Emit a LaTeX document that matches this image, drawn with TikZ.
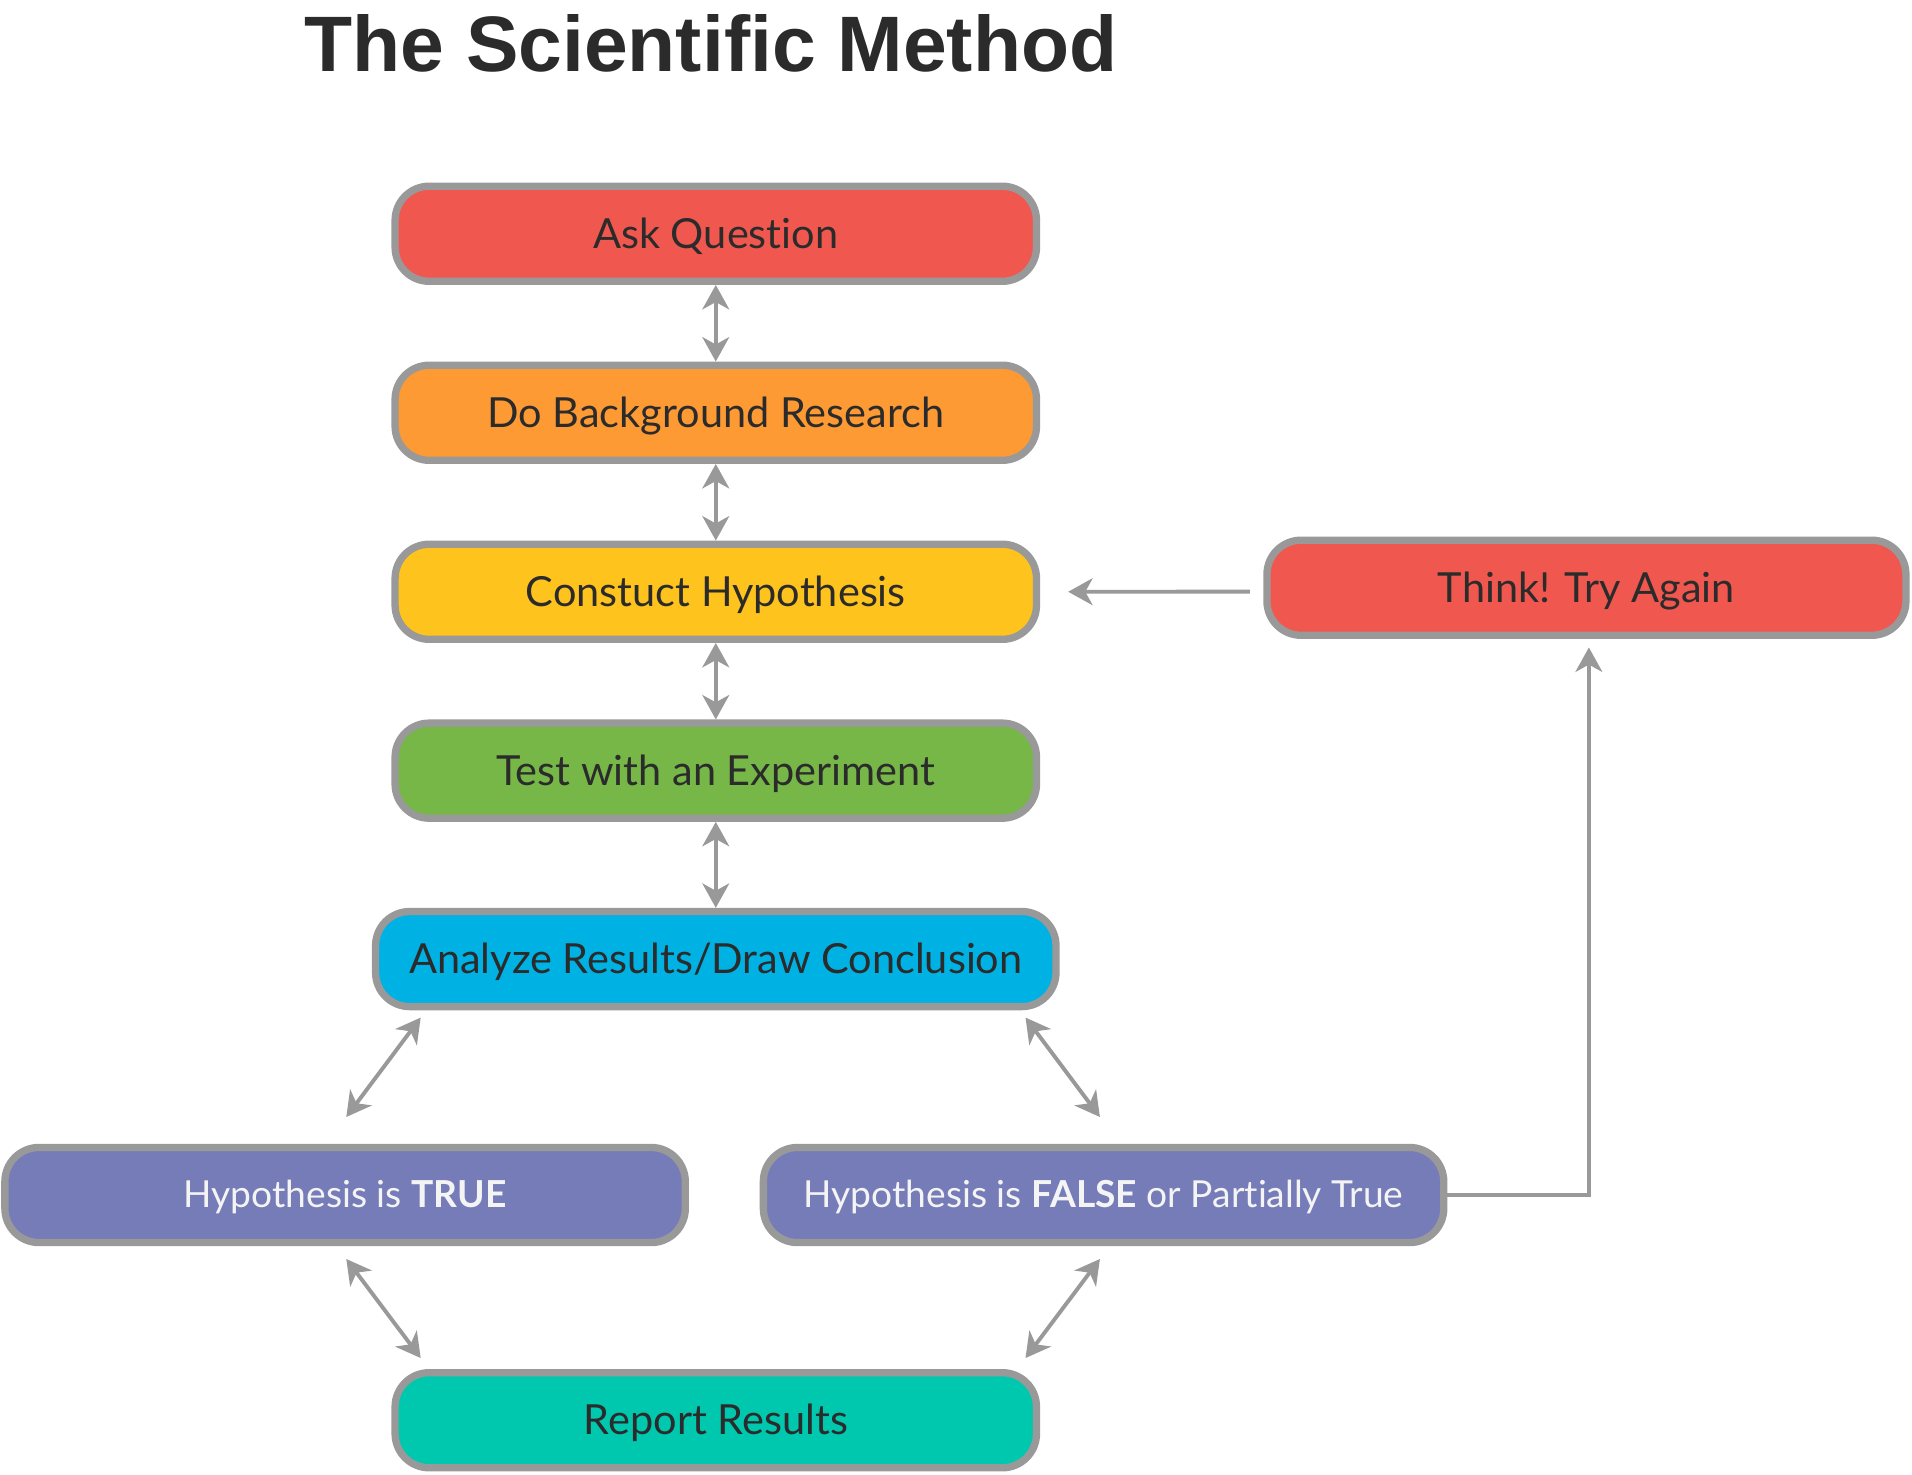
\documentclass[tikz,border=0pt]{standalone}
\usepackage{fontspec}
\setmainfont{Lato}[Ligatures=NoCommon]
\newfontfamily\titlefont{Liberation Sans}
\usetikzlibrary{arrows.meta,calc}
\definecolor{bordergray}{HTML}{999999}
\definecolor{textdark}{HTML}{2B2B2B}
\definecolor{whitetext}{HTML}{F4F4F4}
\definecolor{redbox}{HTML}{F0584F}
\definecolor{orangebox}{HTML}{FE9A34}
\definecolor{yellowbox}{HTML}{FFC31E}
\definecolor{greenbox}{HTML}{76B748}
\definecolor{cyanbox}{HTML}{00B2E3}
\definecolor{purplebox}{HTML}{767CB8}
\definecolor{tealbox}{HTML}{00C8AF}
\begin{document}
\begin{tikzpicture}[x=1pt,y=-1pt,
  box/.style={draw=bordergray, line width=6pt, rounded corners=28pt,
    minimum width=526pt, minimum height=78pt, inner sep=0pt,
    text height=24pt, text depth=0pt,
    text=textdark, font=\fontsize{34}{40}\selectfont},
  widebox/.style={box, minimum width=558pt},
  hypobox/.style={widebox, fill=purplebox, text=whitetext, text height=21pt,
    font=\fontsize{30.5}{36}\selectfont},
  conn/.style={draw=bordergray, line width=3.2pt},
  dbl/.style={conn, arrows={Stealth[length=20pt,width=22pt,inset=6pt]-Stealth[length=20pt,width=22pt,inset=6pt]}},
  sgl/.style={conn, arrows={-Stealth[length=20pt,width=22pt,inset=6pt]}}
]
\fill[white] (0,0) rectangle (1568,1209);
\useasboundingbox (0,0) rectangle (1568,1209);

\node[anchor=base, text=textdark, font=\titlefont\bfseries\fontsize{64.5}{70}\selectfont] (title) at (583,58.8) {The Scientific Method};

\node[box, fill=redbox]    (ask)  at (587,191.7) {Ask Question};
\node[box, fill=orangebox] (bg)   at (587,338.5) {Do Background Research};
\node[box, fill=yellowbox] (hyp)  at (587,485.3) {Constuct Hypothesis};
\node[box, fill=greenbox]  (test) at (587,632)   {Test with an Experiment};
\node[widebox, fill=cyanbox] (ana) at (587,786.5) {Analyze Results/Draw Conclusion};
\node[hypobox] (tru) at (283,980) {Hypothesis is \textbf{TRUE}};
\node[hypobox] (fal) at (905,980) {Hypothesis is \textbf{FALSE} or Partially True};
\node[box, fill=tealbox]   (rep)  at (587,1164.7) {Report Results};
\node[box, fill=redbox, minimum width=524pt] (think) at (1301,482) {Think! Try Again};

\draw[dbl] (ask) -- (bg);
\draw[dbl] (bg) -- (hyp);
\draw[dbl] (hyp) -- (test);
\draw[dbl] (test) -- (ana);

\coordinate (a1) at ($(ana.south west)+(40,6)$);
\coordinate (t1) at ($(tru.north)+(1,-22)$);
\coordinate (a2) at ($(ana.south east)+(-28,6)$);
\coordinate (f1) at ($(fal.north)+(-3,-22)$);
\coordinate (t2) at ($(tru.south)+(1,10.5)$);
\coordinate (r1) at ($(rep.north west)+(24,-9)$);
\coordinate (f2) at ($(fal.south)+(-3,10.5)$);
\coordinate (r2) at ($(rep.north east)+(-12,-9)$);
\draw[dbl] (a1) -- (t1);
\draw[dbl] (a2) -- (f1);
\draw[dbl] (t2) -- (r1);
\draw[dbl] (f2) -- (r2);

\coordinate (th1) at ($(think.west)+(-11,3.2)$);
\coordinate (hy1) at ($(hyp.east)+(23,0)$);
\draw[sgl] (th1) -- (hy1);
\coordinate (th2) at ($(think.south)+(2,7)$);
\draw[sgl] (fal.east) -| (th2);
\end{tikzpicture}
\end{document}
